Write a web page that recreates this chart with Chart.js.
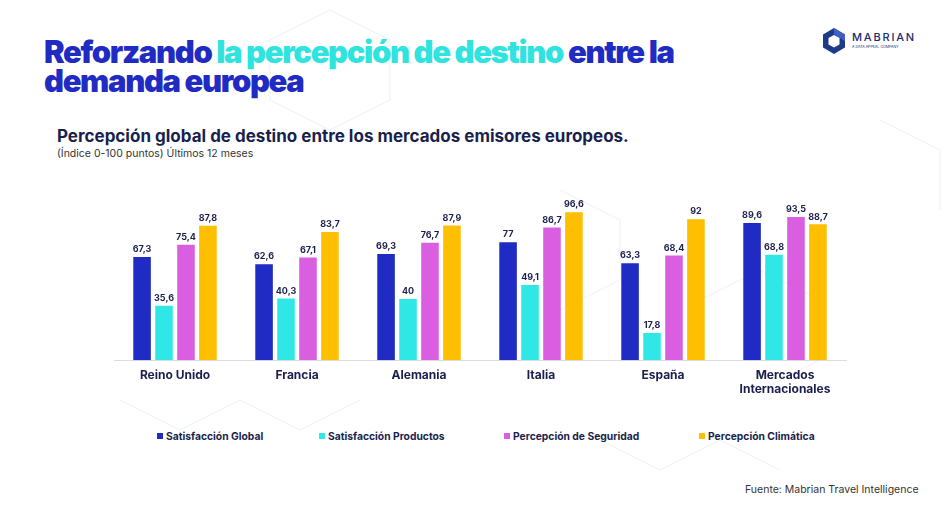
<!DOCTYPE html>
<html><head><meta charset="utf-8">
<script src="https://cdn.jsdelivr.net/npm/chart.js@4/dist/chart.umd.min.js"></script>
<style>
html,body{margin:0;padding:0;background:#fff;}
body{width:950px;height:518px;position:relative;overflow:hidden;font-family:Inter,"Open Sans",sans-serif;}
#title{position:absolute;left:44px;top:37px;font-family:Inter,sans-serif;font-weight:900;font-size:31px;line-height:29px;letter-spacing:-1.35px;color:#1f2bc2;white-space:nowrap;}
#title .c{color:#2fe3df;}
#sub{position:absolute;left:57px;top:126px;font-family:Inter,sans-serif;font-weight:700;font-size:17px;color:#1a1f4d;white-space:nowrap;}
#sub2{position:absolute;left:57px;top:147px;font-family:Inter,sans-serif;font-weight:400;font-size:10.5px;color:#333;white-space:nowrap;}
#wrap{position:absolute;left:100px;top:194px;width:760px;height:208px;}
#legend{position:absolute;left:0;top:429px;width:950px;height:16px;}
.li{position:absolute;top:0;font-family:Inter,sans-serif;font-weight:700;font-size:10.3px;color:#1a1f4d;white-space:nowrap;line-height:14px;}
.li span{display:inline-block;width:6px;height:6px;margin-right:3px;vertical-align:1px;}
#src{position:absolute;left:745px;top:483px;font-family:Inter,sans-serif;font-size:10.5px;color:#333;white-space:nowrap;}
#logo{position:absolute;left:820px;top:26px;}
#bg{position:absolute;left:0;top:0;}
</style></head>
<body>
<svg id="bg" width="950" height="518">
 <g fill="none" stroke="#eef0f5" stroke-width="1">
  <polyline points="330,10 390,40 390,100 330,130 270,100 270,40 330,10"/>
  <polyline points="560,190 620,220 620,280 560,310"/>
  <polyline points="700,300 760,270 820,300 820,360 760,390"/>
  <polyline points="120,400 180,430 240,400 300,430 360,400"/>
  <polyline points="880,120 940,150 940,210"/>
  <polyline points="600,440 660,470 720,440 780,470"/>
 </g>
</svg>
<div id="title">Reforzando <span class="c">la percepción de destino</span> entre la<br>demanda europea</div>
<svg id="logo" width="110" height="32">
 <polygon points="14,2 25,8.5 25,21.5 14,28 3,21.5 3,8.5" fill="#1e3a8a"/>
 <polygon points="14,2 25,8.5 25,15 14,8.5" fill="#3f5fc4"/>
 <polygon points="14,9 19.5,12 19.5,18.5 14,21.5 8.5,18.5 8.5,12" fill="#fff"/>
 <text x="32" y="15" font-family="Inter,sans-serif" font-size="11" font-weight="500" letter-spacing="1.8" fill="#1a2a6c">MABRIAN</text>
 <text x="32" y="22" font-family="Inter,sans-serif" font-size="3.6" fill="#1a2a6c">A DATA APPEAL COMPANY</text>
</svg>
<div id="sub">Percepción global de destino entre los mercados emisores europeos.</div>
<div id="sub2">(Índice 0-100 puntos) Últimos 12 meses</div>
<div id="wrap"><canvas id="c"></canvas></div>
<div id="legend"></div>
<div id="src">Fuente: Mabrian Travel Intelligence</div>
<script>
const categories = ["Reino Unido","Francia","Alemania","Italia","España",["Mercados","Internacionales"]];
const seriesNames = ["Satisfacción Global","Satisfacción Productos","Percepción de Seguridad","Percepción Climática"];
const satisfaccionGlobal = [67.3,62.6,69.3,77,63.3,89.6];
const satisfaccionProductos = [35.6,40.3,40,49.1,17.8,68.8];
const percepcionSeguridad = [75.4,67.1,76.7,86.7,68.4,93.5];
const percepcionClimatica = [87.8,83.7,87.9,96.6,92,88.7];
const colors = ["#1f2bc2","#2fe8e6","#da5fe0","#fdbf00"];
const legendX = [157,319,504,699];

const series=[satisfaccionGlobal,satisfaccionProductos,percepcionSeguridad,percepcionClimatica];
const labelPlugin={id:'vlabels',afterDatasetsDraw(chart){
  const ctx=chart.ctx;ctx.save();
  ctx.font='700 9px Inter, sans-serif';ctx.fillStyle='#1a1f4d';ctx.textAlign='center';ctx.textBaseline='bottom';
  chart.data.datasets.forEach((ds,i)=>{
    chart.getDatasetMeta(i).data.forEach((bar,j)=>{
      ctx.fillText(String(ds.data[j]).replace('.',','),bar.x,bar.y-3);
    });
  });
  ctx.restore();
}};
const chart=new Chart(document.getElementById('c'),{
  type:'bar',
  data:{labels:categories,datasets:series.map((d,i)=>({label:seriesNames[i],data:d,backgroundColor:colors[i],borderWidth:0}))},
  options:{
    responsive:true,maintainAspectRatio:false,animation:false,
    layout:{padding:{left:14,right:14,top:13,bottom:5}},
    plugins:{legend:{display:false},tooltip:{enabled:false}},
    datasets:{bar:{categoryPercentage:0.72,barPercentage:0.8}},
    scales:{
      x:{grid:{display:false},border:{display:true,color:'#dcdde3',width:1},
         ticks:{padding:0,color:'#1a1f4d',font:{family:'Inter, sans-serif',weight:'700',size:12}}},
      y:{display:false,min:0,max:100}
    }
  },
  plugins:[labelPlugin]
});
const lg=document.getElementById('legend');
chart.data.datasets.forEach((ds,i)=>{
  const d=document.createElement('div');d.className='li';d.style.left=legendX[i]+'px';
  d.innerHTML='<span style="background:'+ds.backgroundColor+'"></span>'+ds.label;
  lg.appendChild(d);
});
</script>
</body></html>
